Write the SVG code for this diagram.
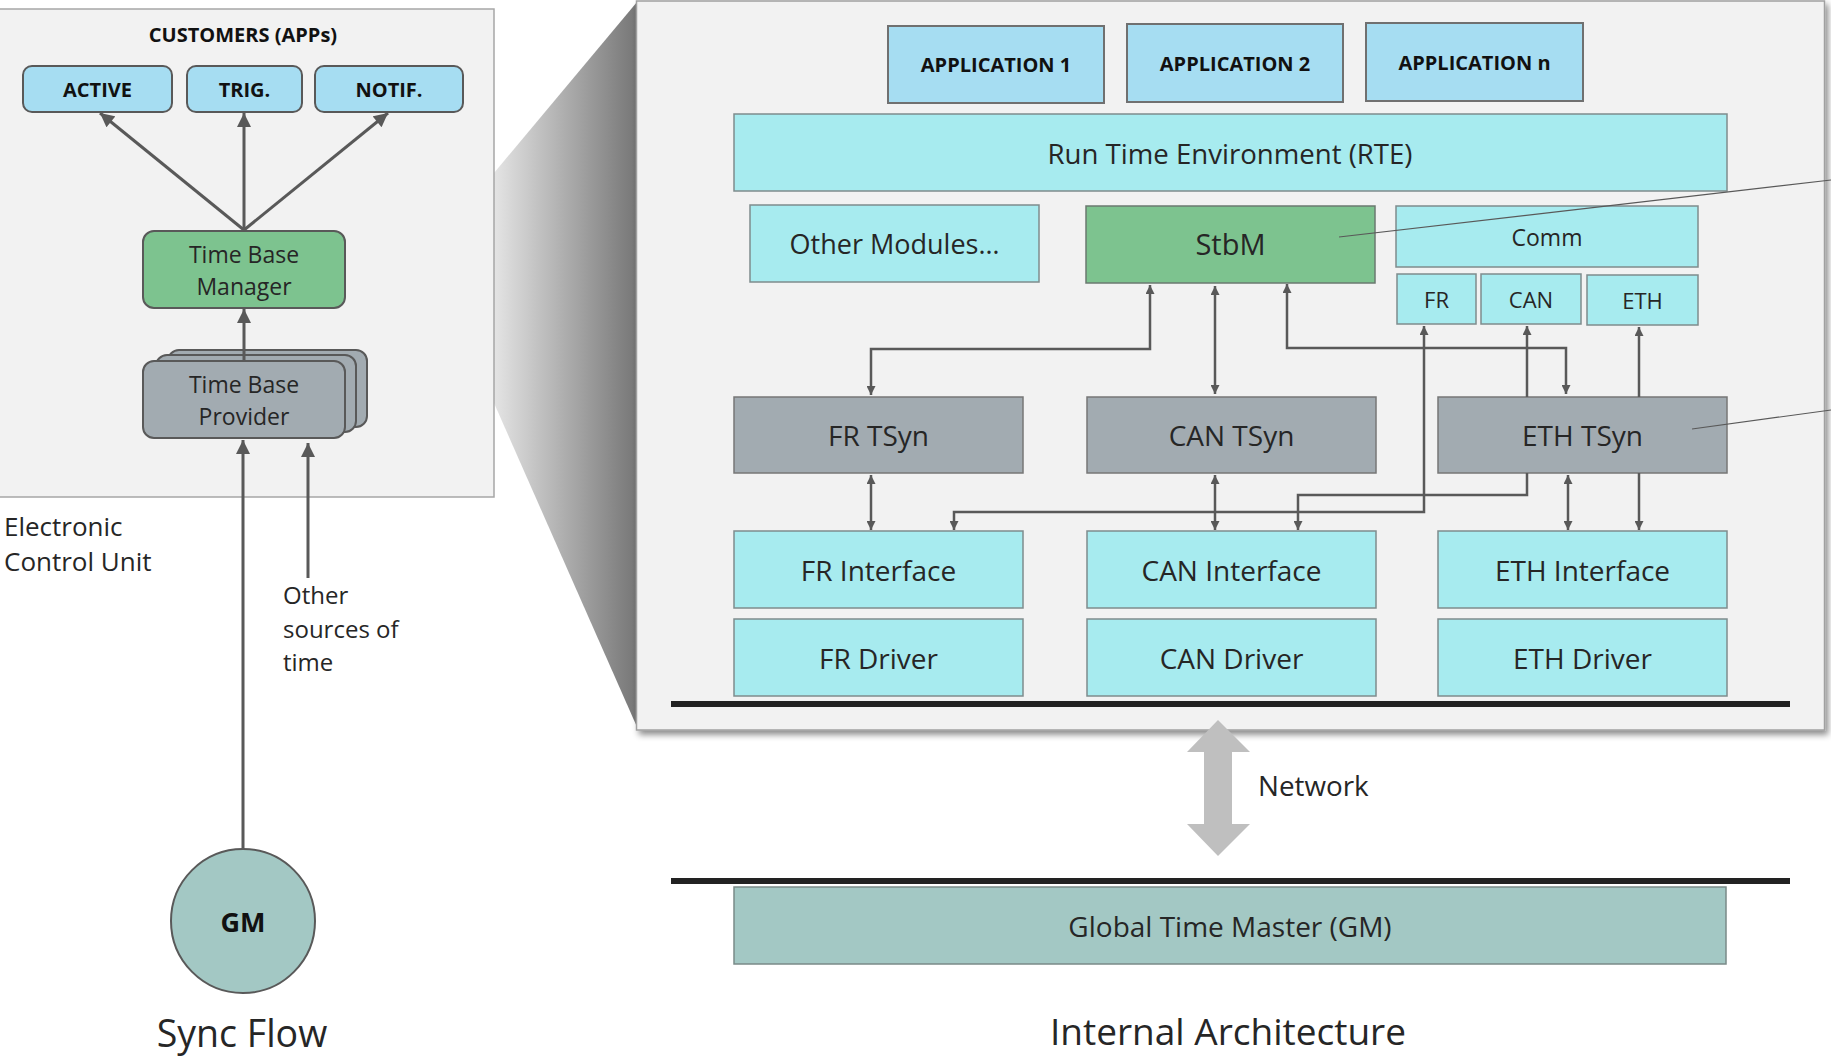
<svg xmlns="http://www.w3.org/2000/svg" width="1831" height="1059" viewBox="0 0 1831 1059">
<style>
text{font-family:"Open Sans","Noto Sans","Liberation Sans",sans-serif;fill:#262626;text-anchor:middle}
.b{font-weight:bold;fill:#111}
.lt{text-anchor:start}
.rb{stroke:#595959;stroke-width:2}
.app{fill:#a6ddf2}
.cy{fill:#a7ebef;stroke:#7f8c8d;stroke-width:1.5}
.ap2{fill:#a6ddf2;stroke:#707070;stroke-width:2}
.gr{fill:#7dc38f;stroke:#6b7a70;stroke-width:1.5}
.gy{fill:#a2abb1;stroke:#777;stroke-width:1.5}
.cn{fill:none;stroke:#595959;stroke-width:2.5}
.cl{fill:none;stroke:#595959;stroke-width:3}
.ld{fill:none;stroke:#595959;stroke-width:1.2}
</style>
<defs>
<marker id="ah" viewBox="0 0 10 10" refX="10" refY="5" markerUnits="userSpaceOnUse" markerWidth="10" markerHeight="9" orient="auto-start-reverse"><path d="M0,0L10,5L0,10z" fill="#595959"/></marker>
<marker id="ahl" viewBox="0 0 10 10" refX="10" refY="5" markerUnits="userSpaceOnUse" markerWidth="15" markerHeight="14" orient="auto-start-reverse"><path d="M0,0L10,5L0,10z" fill="#595959"/></marker>
<linearGradient id="zoomg" x1="0" y1="0" x2="1" y2="0"><stop offset="0" stop-color="#e4e4e4"/><stop offset="1" stop-color="#767676"/></linearGradient>
<filter id="sh" x="-5%" y="-5%" width="110%" height="110%"><feDropShadow dx="3" dy="4" stdDeviation="3" flood-color="#000" flood-opacity="0.45"/></filter>
</defs>
<rect width="1831" height="1059" fill="#fff"/>

<!-- zoom trapezoid -->
<polygon points="494,173 637,2 637,727 494,403" fill="url(#zoomg)"/>

<!-- left panel -->
<g id="ecu-panel">
<rect x="-1" y="9" width="495" height="488" fill="#f2f2f2" stroke="#a6a6a6" stroke-width="1.5"/>
<text class="b" x="243" y="42" font-size="20">CUSTOMERS (APPs)</text>
</g>
<g id="active"><rect class="app rb" x="23" y="66" width="149" height="46" rx="9"/><text class="b" x="97.5" y="97" font-size="20">ACTIVE</text></g>
<g id="trig"><rect class="app rb" x="187" y="66" width="115" height="46" rx="9"/><text class="b" x="244.5" y="97" font-size="20">TRIG.</text></g>
<g id="notif"><rect class="app rb" x="315" y="66" width="148" height="46" rx="9"/><text class="b" x="389" y="97" font-size="20">NOTIF.</text></g>
<g id="tbm"><rect class="rb" fill="#7dc38f" x="143" y="231" width="202" height="77" rx="11"/><text x="244" y="263" font-size="23">Time Base</text><text x="244" y="295" font-size="23">Manager</text></g>
<g id="tbp">
<rect class="rb" fill="#a2abb1" x="168" y="350" width="199" height="77" rx="11"/>
<rect class="rb" fill="#a2abb1" x="156" y="355" width="200" height="77" rx="11"/>
<rect class="rb" fill="#a2abb1" x="143" y="361" width="202" height="77" rx="11"/>
<text x="244" y="393" font-size="23">Time Base</text><text x="244" y="425" font-size="23">Provider</text></g>
<g id="gm"><circle cx="243" cy="921" r="72" fill="#a3c8c4" stroke="#595959" stroke-width="2"/><text class="b" x="243" y="932" font-size="27">GM</text></g>
<g id="ecu-label"><text class="lt" x="4" y="536" font-size="26">Electronic</text><text class="lt" x="4" y="571" font-size="26">Control Unit</text></g>
<g id="other-src"><text class="lt" x="283" y="604" font-size="24">Other</text><text class="lt" x="283" y="638" font-size="24">sources of</text><text class="lt" x="283" y="671" font-size="24">time</text></g>
<text x="242" y="1047" font-size="37.5">Sync Flow</text>

<!-- big panel -->
<g id="arch-panel"><rect x="636.5" y="1" width="1188" height="729" fill="#f2f2f2" stroke="#a0a0a0" stroke-width="1.5" filter="url(#sh)"/></g>

<g id="app1"><rect class="ap2" x="888" y="26" width="216" height="77"/><text class="b" x="996" y="72" font-size="20">APPLICATION 1</text></g>
<g id="app2"><rect class="ap2" x="1127" y="24" width="216" height="78"/><text class="b" x="1235" y="71" font-size="20">APPLICATION 2</text></g>
<g id="appn"><rect class="ap2" x="1366" y="23" width="217" height="78"/><text class="b" x="1474.5" y="70" font-size="20">APPLICATION n</text></g>
<g id="rte"><rect class="cy" x="734" y="114" width="993" height="77"/><text x="1230" y="164" font-size="27.6">Run Time Environment (RTE)</text></g>
<g id="other-modules"><rect class="cy" x="750" y="205" width="289" height="77"/><text x="894.5" y="254" font-size="27">Other Modules…</text></g>
<g id="stbm"><rect class="gr" x="1086" y="206" width="289" height="77"/><text x="1230.5" y="255" font-size="29">StbM</text></g>
<g id="comm"><rect class="cy" x="1396" y="206" width="302" height="61"/><text x="1547" y="246" font-size="23">Comm</text></g>
<g id="comm-fr"><rect class="cy" x="1397" y="274" width="79" height="50"/><text x="1436.5" y="308" font-size="22">FR</text></g>
<g id="comm-can"><rect class="cy" x="1481" y="274" width="100" height="50"/><text x="1531" y="308" font-size="22">CAN</text></g>
<g id="comm-eth"><rect class="cy" x="1587" y="275" width="111" height="50"/><text x="1642.5" y="309" font-size="22">ETH</text></g>
<g id="fr-tsyn"><rect class="gy" x="734" y="397" width="289" height="76"/><text x="878.5" y="446" font-size="28">FR TSyn</text></g>
<g id="can-tsyn"><rect class="gy" x="1087" y="397" width="289" height="76"/><text x="1231.5" y="446" font-size="28">CAN TSyn</text></g>
<g id="eth-tsyn"><rect class="gy" x="1438" y="397" width="289" height="76"/><text x="1582.5" y="446" font-size="28">ETH TSyn</text></g>
<g id="fr-if"><rect class="cy" x="734" y="531" width="289" height="77"/><text x="878.5" y="581" font-size="28">FR Interface</text></g>
<g id="can-if"><rect class="cy" x="1087" y="531" width="289" height="77"/><text x="1231.5" y="581" font-size="28">CAN Interface</text></g>
<g id="eth-if"><rect class="cy" x="1438" y="531" width="289" height="77"/><text x="1582.5" y="581" font-size="28">ETH Interface</text></g>
<g id="fr-drv"><rect class="cy" x="734" y="619" width="289" height="77"/><text x="878.5" y="669" font-size="28">FR Driver</text></g>
<g id="can-drv"><rect class="cy" x="1087" y="619" width="289" height="77"/><text x="1231.5" y="669" font-size="28">CAN Driver</text></g>
<g id="eth-drv"><rect class="cy" x="1438" y="619" width="289" height="77"/><text x="1582.5" y="669" font-size="28">ETH Driver</text></g>
<g id="bus-top"><rect x="671" y="701" width="1119" height="6" fill="#222"/></g>
<g id="network"><polygon points="1218,720 1250,752 1232,752 1232,824 1250,824 1218,856 1187,824 1204,824 1204,752 1187,752" fill="#bfbfbf"/><text class="lt" x="1258" y="796" font-size="27.8">Network</text></g>
<g id="bus-bottom"><rect x="671" y="878" width="1119" height="6" fill="#222"/></g>
<g id="gtm"><rect x="734" y="887" width="992" height="77" fill="#a3c8c4" stroke="#7a8a88" stroke-width="1.5"/><text x="1230" y="937" font-size="28">Global Time Master (GM)</text></g>
<text x="1228" y="1045" font-size="37">Internal Architecture</text>

<g id="connectors">
<path class="cl" d="M244,230L100,113" marker-end="url(#ahl)"/>
<path class="cl" d="M244,230V113" marker-end="url(#ahl)"/>
<path class="cl" d="M244,230L388,113" marker-end="url(#ahl)"/>
<path class="cl" d="M244,361V309" marker-end="url(#ahl)"/>
<path class="cl" d="M243,849V440" marker-end="url(#ahl)"/>
<path class="cl" d="M308,578V443" marker-end="url(#ahl)"/>
<path class="cn" d="M1150,285V349H871V395" marker-start="url(#ah)" marker-end="url(#ah)"/>
<path class="cn" d="M1215,286V394" marker-start="url(#ah)" marker-end="url(#ah)"/>
<path class="cn" d="M1287,284V348H1566V394" marker-start="url(#ah)" marker-end="url(#ah)"/>
<path class="cn" d="M954,530V512H1424V326" marker-start="url(#ah)" marker-end="url(#ah)"/>
<path class="cn" d="M1527,397V326" marker-end="url(#ah)"/>
<path class="cn" d="M1639,397V327" marker-end="url(#ah)"/>
<path class="cn" d="M871,475V530" marker-start="url(#ah)" marker-end="url(#ah)"/>
<path class="cn" d="M1215,475V530" marker-start="url(#ah)" marker-end="url(#ah)"/>
<path class="cn" d="M1527,473V495H1298V530" marker-end="url(#ah)"/>
<path class="cn" d="M1568,475V530" marker-start="url(#ah)" marker-end="url(#ah)"/>
<path class="cn" d="M1639,473V530" marker-end="url(#ah)"/>
<path class="ld" d="M1339,237L1831,180"/>
<path class="ld" d="M1692,429L1831,410"/>
</g>
</svg>
